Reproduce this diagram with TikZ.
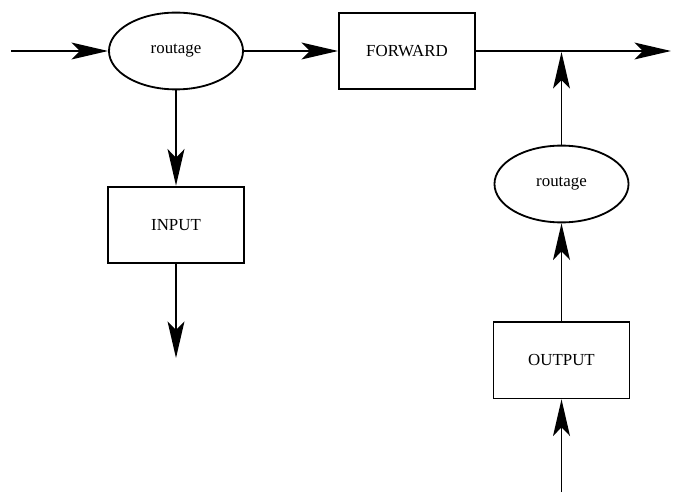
\documentclass[tikz,border=0pt]{standalone}
\usepackage{fontspec}
\setmainfont{Liberation Serif}
\usetikzlibrary{arrows.meta,shapes.geometric}
\begin{document}
\begin{tikzpicture}[x=0.025cm, y=-0.025cm, line width=1.3pt,
		fleche/.style={-{Stealth[length=26pt, width=12pt, inset=6pt]}},
		bloc/.style={draw, rectangle, minimum width=3.4cm, minimum height=1.92cm, font=\fontsize{12}{14}\selectfont},
		route/.style={draw, ellipse, minimum width=3.35cm, minimum height=1.92cm, inner sep=0pt, font=\fontsize{12}{14}\selectfont}]
			
				\useasboundingbox (0,0) rectangle (675,492);
			
				\node[route] (routeA) at (176,51) {routage};
				\node[bloc] (forward) at (407,51) {FORWARD};
				\node[bloc] (input) at (176,225) {INPUT};
				\node[route] (routeB) at (561.5,184) {routage};
				\node[bloc] (output) at (561.5,360) {OUTPUT};
			
				\coordinate (entree) at (11,51);
				\coordinate (sortie) at (671,51);
				\coordinate (bas) at (176,358);
				\coordinate (source) at (561.5,492);
				\coordinate (jonction) at (561.5,52);
			
				\draw[fleche] (entree) -- (routeA);
				\draw[fleche] (routeA) -- (forward);
				\draw[fleche] (forward) -- (sortie);
				\draw[fleche] (routeA) -- (input);
				\draw[fleche] (input) -- (bas);
				\draw[fleche] (source) -- (output);
				\draw[fleche] (output) -- (routeB);
				\draw[fleche] (routeB) -- (jonction);
			
			\end{tikzpicture}
\end{document}
